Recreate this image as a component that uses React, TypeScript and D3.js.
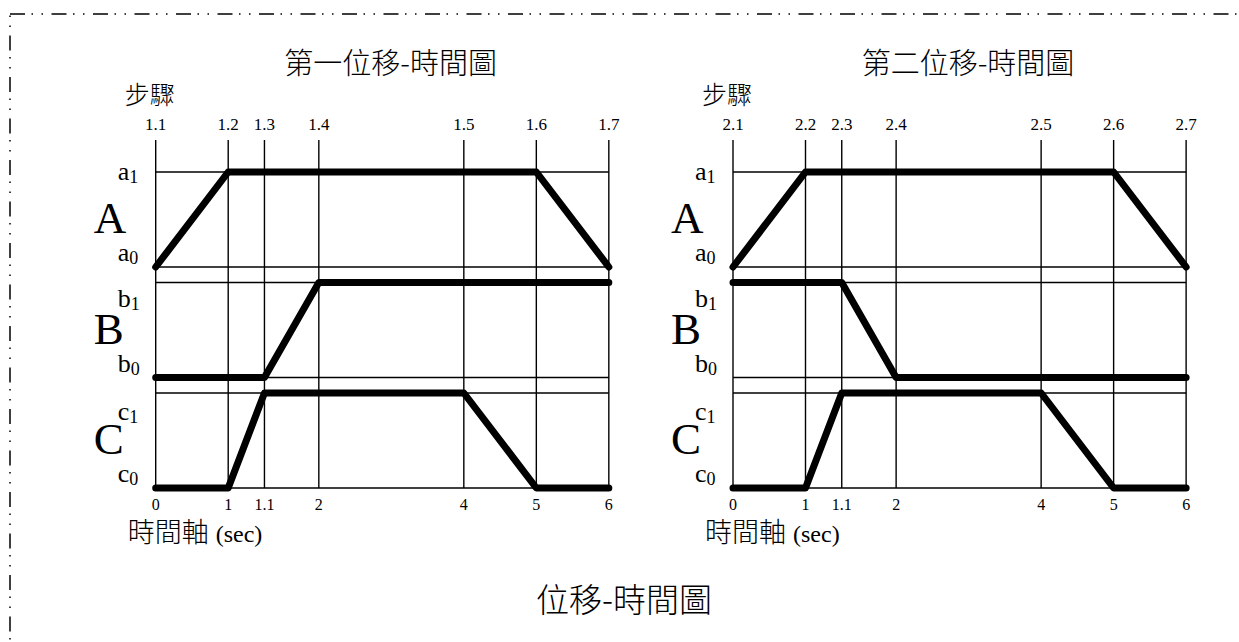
import * as React from 'react'
import { useEffect, useRef } from 'react'
import * as d3 from 'd3'

// time of each step column (sec)
const times = [0, 1, 1.1, 2, 4, 5, 6]
const timeLabels = ['0', '1', '1.1', '2', '4', '5', '6']
const steps1 = ['1.1', '1.2', '1.3', '1.4', '1.5', '1.6', '1.7']
const steps2 = ['2.1', '2.2', '2.3', '2.4', '2.5', '2.6', '2.7']
const rows = ['A', 'B', 'C']
const rowSub = ['a', 'b', 'c']

// 0 = retracted (x0), 1 = extended (x1), one value per step column
const seriesA = [0, 1, 1, 1, 1, 1, 0]
const seriesB1 = [0, 0, 0, 1, 1, 1, 1]
const seriesB2 = [1, 1, 1, 0, 0, 0, 0]
const seriesC = [0, 0, 1, 1, 1, 0, 0]

const W = 1239
const H = 642
const SERIF = '"Liberation Serif", "Times New Roman", serif'
const CJK = '"Noto Sans CJK TC", "Noto Sans CJK SC", sans-serif'

// columns are not drawn proportional to time
const timeBreaks = [0, 1, 1.1, 2, 6]
const unitBreaks = [0, 1, 1.5, 2.25, 6.25]
const UNIT = 72.5
const TOP = 140
const hiLabelDy = [8, 24, 27]

function drawChart(svg, x0, title, steps, series) {
  const g = svg.append('g').attr('transform', `translate(${x0},0)`)

  const x = d3
    .scaleLinear()
    .domain(timeBreaks)
    .range(unitBreaks.map((u) => u * UNIT))
  const band = d3
    .scaleBand()
    .domain(rows)
    .range([172, 488])
    .paddingInner(15.5 / 110.5)
  const bottom = band('C') + band.bandwidth()
  const yRow = (r) =>
    d3
      .scaleLinear()
      .domain([0, 1])
      .range([band(r) + band.bandwidth(), band(r)])

  // vertical grid
  g.selectAll('line.v')
    .data(times)
    .enter()
    .append('line')
    .attr('x1', (d) => x(d))
    .attr('x2', (d) => x(d))
    .attr('y1', TOP)
    .attr('y2', bottom)
    .attr('stroke', '#000')
    .attr('stroke-width', 1.4)

  // horizontal grid, two per row
  rows.forEach((r) => {
    const y = yRow(r)
    g.selectAll(`line.h${r}`)
      .data([0, 1])
      .enter()
      .append('line')
      .attr('x1', x(times[0]))
      .attr('x2', x(times[times.length - 1]))
      .attr('y1', (d) => y(d))
      .attr('y2', (d) => y(d))
      .attr('stroke', '#000')
      .attr('stroke-width', 1.4)
  })

  // step labels
  g.selectAll('text.step')
    .data(steps)
    .enter()
    .append('text')
    .attr('x', (d, i) => x(times[i]))
    .attr('y', 130)
    .attr('text-anchor', 'middle')
    .attr('font-family', SERIF)
    .attr('font-size', 17)
    .text((d) => d)

  // time labels
  g.selectAll('text.time')
    .data(timeLabels)
    .enter()
    .append('text')
    .attr('x', (d, i) => x(times[i]))
    .attr('y', 510)
    .attr('text-anchor', 'middle')
    .attr('font-family', SERIF)
    .attr('font-size', 16)
    .text((d) => d)

  // row labels
  rows.forEach((r, i) => {
    const y = yRow(r)
    g.append('text')
      .attr('x', -62)
      .attr('y', y(1) + 61)
      .attr('font-family', SERIF)
      .attr('font-size', 45)
      .text(r)

    const hi = g
      .append('text')
      .attr('x', -38)
      .attr('y', y(1) + hiLabelDy[i])
      .attr('font-family', SERIF)
      .attr('font-size', 26)
    hi.append('tspan').text(rowSub[i])
    hi.append('tspan').attr('font-size', 18).attr('dy', 3).text('1')

    const lo = g
      .append('text')
      .attr('x', -38)
      .attr('y', y(0) - 6)
      .attr('font-family', SERIF)
      .attr('font-size', 26)
    lo.append('tspan').text(rowSub[i])
    lo.append('tspan').attr('font-size', 18).attr('dy', 3).text('0')
  })

  // motion lines
  series.forEach((vals, i) => {
    const y = yRow(rows[i])
    const line = d3
      .line()
      .x((d, j) => x(times[j]))
      .y((d) => y(d))
    g.append('path')
      .attr('d', line(vals))
      .attr('fill', 'none')
      .attr('stroke', '#000')
      .attr('stroke-width', 7)
      .attr('stroke-linecap', 'round')
      .attr('stroke-linejoin', 'round')
  })

  g.append('text')
    .attr('x', 235)
    .attr('y', 60.5)
    .attr('text-anchor', 'middle')
    .attr('dominant-baseline', 'central')
    .attr('font-family', CJK)
    .attr('font-weight', 300)
    .attr('font-size', 29)
    .text(title)

  g.append('text')
    .attr('x', -6)
    .attr('y', 92.5)
    .attr('text-anchor', 'middle')
    .attr('dominant-baseline', 'central')
    .attr('font-family', CJK)
    .attr('font-weight', 300)
    .attr('font-size', 25)
    .text('步驟')

  const axis = g
    .append('text')
    .attr('x', -28)
    .attr('y', 542)
    .attr('font-family', `${SERIF}, ${CJK}`)
  axis
    .append('tspan')
    .attr('font-family', CJK)
    .attr('font-weight', 300)
    .attr('font-size', 27)
    .text('時間軸')
  axis.append('tspan').attr('font-size', 24).attr('dx', 7).text('(sec)')
}

export default function App() {
  const ref = useRef(null)

  useEffect(() => {
    const svg = d3.select(ref.current)
    svg.selectAll('*').remove()

    svg.append('rect').attr('width', W).attr('height', H).attr('fill', '#fff')

    // dash-dot-dot frame (top and left edge visible)
    const frame = svg.append('g').attr('stroke', '#000').attr('stroke-width', 1.5).attr('fill', 'none')
    frame
      .append('line')
      .attr('x1', 10)
      .attr('y1', 14)
      .attr('x2', W)
      .attr('y2', 14)
      .attr('stroke-dasharray', '15 6.5 1.5 8.5 1.5 8.5')
    frame
      .append('line')
      .attr('x1', 10)
      .attr('y1', 14)
      .attr('x2', 10)
      .attr('y2', H)
      .attr('stroke-dasharray', '15 6.5 1.5 8.5 1.5 8.5')
      .attr('stroke-dashoffset', 20)

    drawChart(svg, 155.7, '第一位移-時間圖', steps1, [seriesA, seriesB1, seriesC])
    drawChart(svg, 733, '第二位移-時間圖', steps2, [seriesA, seriesB2, seriesC])

    svg
      .append('text')
      .attr('x', 624)
      .attr('y', 598)
      .attr('text-anchor', 'middle')
      .attr('dominant-baseline', 'central')
      .attr('font-family', CJK)
      .attr('font-weight', 300)
      .attr('font-size', 33)
      .text('位移-時間圖')
  }, [])

  return (
    <svg
      ref={ref}
      width={W}
      height={H}
      style={{ position: 'absolute', left: 0, top: 0, display: 'block' }}
    />
  )
}
